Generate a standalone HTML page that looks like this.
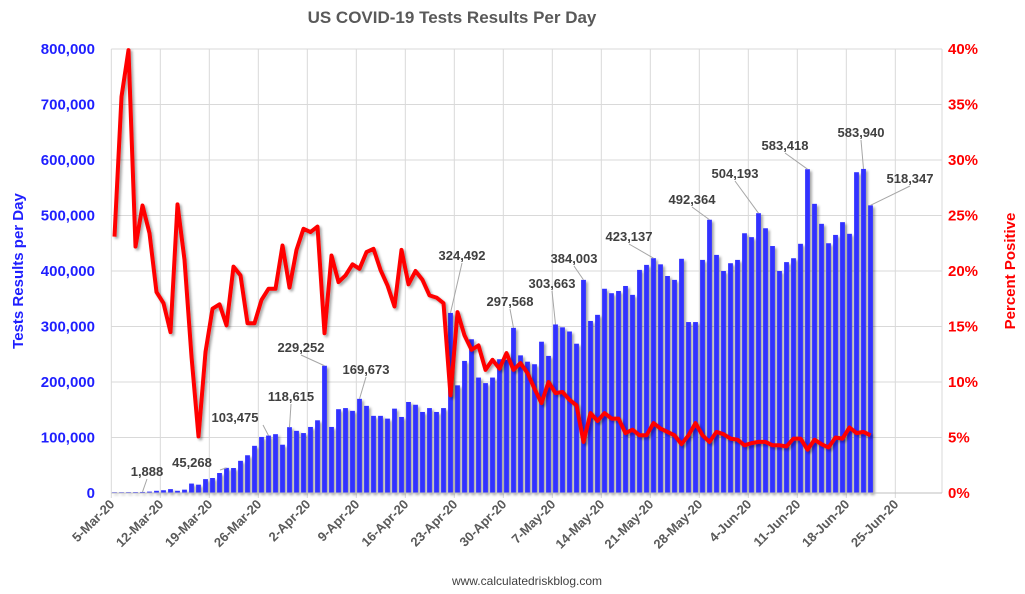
<!DOCTYPE html>
<html><head><meta charset="utf-8"><style>
html,body{margin:0;padding:0;background:#fff;}
svg{display:block;font-family:"Liberation Sans",Arial,sans-serif;}
</style></head><body>
<svg id="chart" width="1025" height="594" viewBox="0 0 1025 594" xmlns="http://www.w3.org/2000/svg">
<defs>
<filter id="sh" x="-5%" y="-5%" width="110%" height="110%"><feDropShadow dx="2" dy="2" stdDeviation="1.2" flood-color="#000" flood-opacity="0.35"/></filter>
</defs>
<text x="452" y="23" text-anchor="middle" font-size="17" font-weight="bold" fill="#595959">US COVID-19 Tests Results Per Day</text>
<g id="grid"></g>
<g id="bars" filter="url(#sh)"></g>
<g id="line" filter="url(#sh)"></g>
<g id="axes"></g>
<g id="labels"></g>
<text transform="translate(23,271) rotate(-90)" text-anchor="middle" font-size="15" font-weight="bold" fill="#1f1fff">Tests Results per Day</text>
<text transform="translate(1015,271) rotate(-90)" text-anchor="middle" font-size="15" font-weight="bold" fill="#ff0000">Percent Positive</text>
<text x="527" y="585" text-anchor="middle" font-size="12" fill="#404040">www.calculatedriskblog.com</text>
</svg>
<script>
const tests = [1500,1500,1600,1700,1888,2500,4000,5000,7000,4000,6000,17000,15000,25000,27000,36000,45268,45000,58000,68000,85000,101000,103475,106000,87000,118615,112000,108000,119000,131000,229252,119000,151000,153000,148000,169673,157000,139000,139000,134000,152000,137000,164000,159000,146000,153000,146000,153000,324492,194000,238000,277000,208000,198000,208000,241000,240000,297568,248000,236600,232000,272600,247000,303663,298500,291000,269000,384003,310000,321000,368000,360000,364000,373000,357000,402000,411000,423137,412000,391000,384000,422000,308000,308000,420000,492364,429000,400000,414000,420000,468000,461000,504193,477000,445000,400000,416000,423000,449000,583418,521000,485000,450000,465000,488000,467000,578000,583940,518347];
const pctPositive = [23.1,35.7,39.9,22.2,25.9,23.4,18.1,17.1,14.5,26.0,21.0,12.3,5.1,12.7,16.6,17.0,15.1,20.4,19.6,15.3,15.3,17.4,18.4,18.4,22.3,18.5,21.9,23.8,23.5,24.0,14.4,21.4,19.0,19.6,20.6,20.2,21.7,22.0,20.1,18.7,16.8,21.9,18.8,20.0,19.2,17.8,17.6,17.1,8.8,16.3,14.2,12.9,13.3,11.1,12.0,11.2,12.6,11.1,11.7,10.8,9.4,8.1,10.0,9.0,9.1,8.4,7.9,4.6,7.2,6.5,7.2,6.7,6.7,5.4,5.7,5.2,5.2,6.3,5.8,5.5,5.2,4.4,5.2,6.3,5.2,4.6,5.5,5.3,4.9,4.8,4.3,4.5,4.6,4.6,4.3,4.3,4.2,4.9,4.9,3.9,4.8,4.4,4.1,5.0,4.9,5.9,5.4,5.5,5.2];
const leftTicks = [0,100000,200000,300000,400000,500000,600000,700000,800000];
const rightTicks = [0,5,10,15,20,25,30,35,40];
const dateLabels = ["5-Mar-20","12-Mar-20","19-Mar-20","26-Mar-20","2-Apr-20","9-Apr-20","16-Apr-20","23-Apr-20","30-Apr-20","7-May-20","14-May-20","21-May-20","28-May-20","4-Jun-20","11-Jun-20","18-Jun-20","25-Jun-20"];
const annotIdx = [4,16,22,25,30,35,48,57,63,67,77,85,92,99,107,108];
const annotPos = [[147,476],[192,467],[235,422],[291,401],[301,352],[366,374],[462,260],[510,306],[552,288],[574,263],[629,241],[692,204],[735,178],[785,150],[861,137],[910,183]];

const NS="http://www.w3.org/2000/svg";
const X0=111.3, DAY=7, Y0=493, YTOP=49, XR=942;
const xDay=i=>X0+DAY*i+3.2;
const yL=v=>Y0-(v/800000)*(Y0-YTOP);
const yR=p=>Y0-(p/40)*(Y0-YTOP);
function mk(tag,attrs,parent,txt){const e=document.createElementNS(NS,tag);for(const k in attrs)e.setAttribute(k,attrs[k]);if(txt!==undefined)e.textContent=txt;parent.appendChild(e);return e;}
const g=document.getElementById('grid'),gb=document.getElementById('bars'),gl=document.getElementById('line'),ga=document.getElementById('axes'),glab=document.getElementById('labels');
const fmt=n=>n.toLocaleString('en-US');

leftTicks.forEach((v,k)=>{
 const y=yL(v);
 const l=mk('line',{x1:X0,x2:XR,y1:y,y2:y,stroke:'#d9d9d9','stroke-width':1},g);
 
 
 const t=mk('text',{x:95,y:y+5,'text-anchor':'end','font-size':15,'font-weight':'bold',fill:'#1f1fff'},ga,fmt(v));
 
 
});
rightTicks.forEach(p=>{
 const t=mk('text',{x:948,y:yR(p)+5,'font-size':15,'font-weight':'bold',fill:'#ff0000'},ga,p+'%');
 
 
});
dateLabels.forEach((d,k)=>{
 const x=X0+k*7*DAY;
 const l=mk('line',{x1:x,x2:x,y1:YTOP,y2:Y0+5,stroke:'#d9d9d9','stroke-width':1},g);
 
 
 const t=mk('text',{transform:`translate(${x+4},${Y0+12}) rotate(-45)`,'text-anchor':'end','font-size':13,'font-weight':'bold',fill:'#595959'},ga,d);
 
 
});
const rb=mk('line',{x1:XR,x2:XR,y1:YTOP,y2:Y0,stroke:'#d9d9d9','stroke-width':1},g);


const xa=mk('line',{x1:X0,x2:XR,y1:Y0,y2:Y0,stroke:'#bfbfbf','stroke-width':1},ga);



tests.forEach((v,i)=>{
 const y=yL(v);
 const r=mk('rect',{x:xDay(i)-2.4,y:y,width:4.8,height:Math.max(Y0-y,0.8),fill:'#3333ff'},gb);
 
 
});
const pts=pctPositive.map((p,i)=>xDay(i).toFixed(1)+','+yR(p).toFixed(1)).join(' ');
const pl=mk('polyline',{points:pts,fill:'none',stroke:'#ff0000','stroke-width':4,'stroke-linejoin':'round'},gl);



annotIdx.forEach((i,k)=>{
 const [lx,ly]=annotPos[k];
 const bx=xDay(i), by=yL(tests[i]);
 const l=mk('line',{x1:lx+(bx>lx+30?28:0),y1:ly+3,x2:bx,y2:by,stroke:'#a6a6a6','stroke-width':1},glab);
 
 
 const t=mk('text',{x:lx,y:ly,'text-anchor':'middle','font-size':13,'font-weight':'bold',fill:'#404040'},glab,fmt(tests[i]));
 
 
});
</script>
</body></html>
